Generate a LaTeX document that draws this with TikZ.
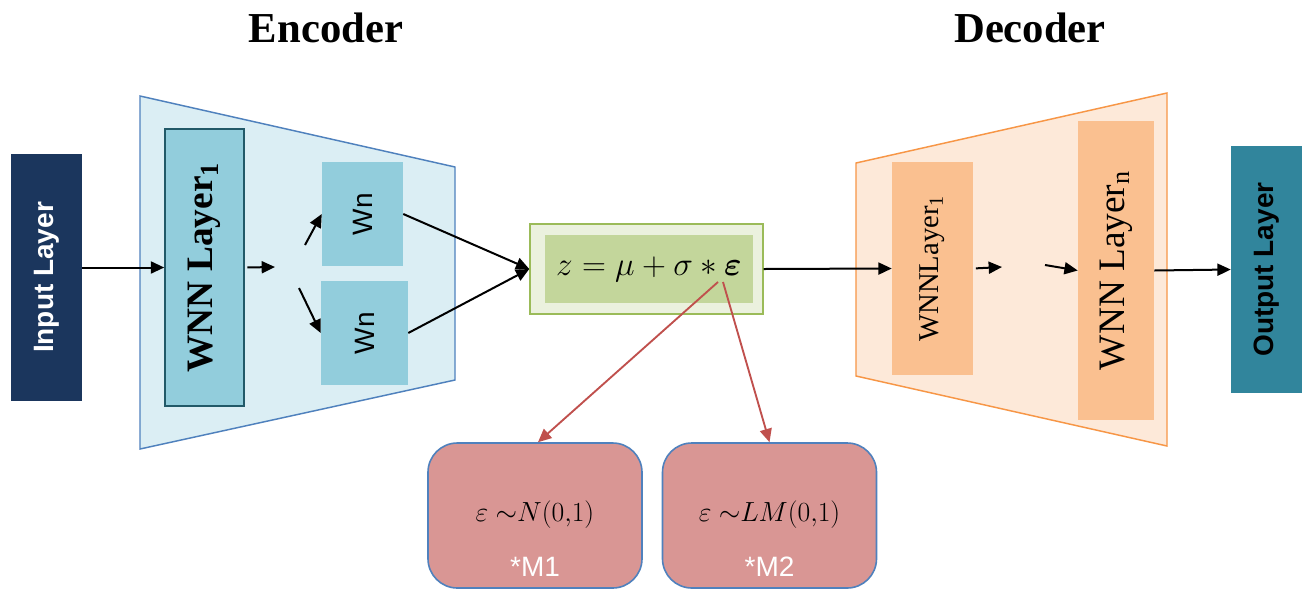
\documentclass[tikz,border=0pt]{standalone}
\usepackage{amsmath}
\usepackage{fontspec}
\setmainfont{Liberation Serif}
\setsansfont{Liberation Sans}
\usetikzlibrary{arrows.meta,calc}
\definecolor{inblue}{RGB}{27,54,93}
\definecolor{encfill}{RGB}{219,238,244}
\definecolor{encline}{RGB}{79,129,189}
\definecolor{wnnfill}{RGB}{146,205,220}
\definecolor{wnnline}{RGB}{33,89,104}
\definecolor{zout}{RGB}{235,241,222}
\definecolor{zin}{RGB}{195,214,155}
\definecolor{zline}{RGB}{155,187,89}
\definecolor{mfill}{RGB}{217,150,148}
\definecolor{redline}{RGB}{192,80,77}
\definecolor{decfill}{RGB}{253,233,217}
\definecolor{decline}{RGB}{247,150,70}
\definecolor{decbox}{RGB}{250,192,144}
\definecolor{outteal}{RGB}{49,133,156}
\tikzset{
  arr/.style={line width=1.5pt,-{Triangle[length=10pt,width=9pt]}},
  redarr/.style={line width=1.4pt,draw=redline,-{Triangle[length=10pt,width=9pt]}},
  vbox/.style={rotate=90,inner sep=0pt,anchor=center},
  sidetxt/.style={font=\sffamily\bfseries\fontsize{21}{24}\selectfont},
  title/.style={font=\bfseries\fontsize{32}{36}\selectfont},
  wnbox/.style={vbox,fill=wnnfill,font=\sffamily\fontsize{21}{24}\selectfont},
  mbox/.style={draw=encline,line width=1.2pt,fill=mfill,rounded corners=22pt,
    minimum width=160.5pt,minimum height=108.75pt,inner sep=0pt,
    font=\fontsize{22}{24}\selectfont},
  mlabel/.style={font=\sffamily\fontsize{21}{24}\selectfont,text=white,anchor=south,yshift=6pt}
}
\begin{document}
\begin{tikzpicture}[x=0.75pt,y=-0.75pt]
\useasboundingbox (0,0) rectangle (1313,590);
\fill[white] (0,0) rectangle (1313,590);

% titles
\node[title] (enc) at (326,28) {Encoder};
\node[title] (dec) at (1030,28) {Decoder};

% encoder trapezoid
\filldraw[fill=encfill,draw=encline,line width=1.1pt] (140,96) -- (455,167) -- (455,380) -- (140,449) -- cycle;
% decoder trapezoid
\filldraw[fill=decfill,draw=decline,line width=1.1pt] (856,163) -- (1167,93) -- (1167,446) -- (856,376) -- cycle;

% input layer (rotated: north = left side, south = right side)
\node[vbox,fill=inblue,text=white,sidetxt,minimum width=185.25pt,minimum height=53.25pt] (in) at (46.5,277.5) {Input Layer};
% encoder WNN layer
\node[vbox,fill=wnnfill,draw=wnnline,line width=1.2pt,minimum width=207.75pt,minimum height=59.25pt,
  font=\bfseries\fontsize{28}{32}\selectfont] (wnn1) at (204.5,267.5) {WNN Layer\textsubscript{1}};
% Wn boxes
\node[wnbox,minimum width=78pt,minimum height=60.75pt] (wnA) at (362.5,214) {Wn};
\node[wnbox,minimum width=78pt,minimum height=65.25pt] (wnB) at (364.5,333) {Wn};

% z box
\node[fill=zout,draw=zline,line width=1.1pt,minimum width=174.75pt,minimum height=67.5pt,inner sep=0pt] (zouter) at (646.5,269) {};
\node[fill=zin,minimum width=156pt,minimum height=51pt,inner sep=0pt,font=\fontsize{23}{26}\selectfont] (zinner) at (649,269)
  {$z=\mu+\sigma*\boldsymbol{\varepsilon}$};
\coordinate (eps) at (718,282);

% M boxes
\node[mbox,label={[mlabel]south:*M1}] (m1) at (535,515.5) {\raisebox{6pt}{$\varepsilon\ {\sim}N(0{,}1)$}};
\node[mbox,label={[mlabel]south:*M2}] (m2) at (769.5,515.5) {\raisebox{6pt}{$\varepsilon\ {\sim}LM(0{,}1)$}};

% decoder boxes
\node[vbox,fill=decbox,minimum width=159.75pt,minimum height=60.75pt,font=\fontsize{21.5}{24}\selectfont] (d1) at (932.5,268.5) {WNNLayer\textsubscript{1}};
\node[vbox,fill=decbox,minimum width=224.25pt,minimum height=57pt,font=\fontsize{28}{32}\selectfont] (dn) at (1116,270.5) {WNN Layer\textsubscript{n}};

% output layer
\node[vbox,fill=outteal,text=black,sidetxt,minimum width=185.25pt,minimum height=53.25pt] (out) at (1266.5,269.5) {Output Layer};

% free ends
\coordinate (c1) at (275,267);
\coordinate (c2) at (305,245);
\coordinate (c3) at (299,288);
\coordinate (c4) at (1002,267);
\coordinate (c5) at (1045,265);

% connectors
\draw[arr] (in.south |- wnn1.north) -- (wnn1.north);
\draw[arr,shorten <=2pt] (wnn1.south) -- (c1);
\draw[arr] (c2) -- (wnA.north);
\draw[arr] (c3) -- (wnB.north);
\draw[arr] (wnA.south) -- (zouter.west);
\draw[arr] (wnB.south) -- (zouter.west);
\draw[arr] (zouter.east) -- (d1.north);
\draw[redarr] (eps) -- ($(m1.north)+(3,0)$);
\draw[redarr] ($(eps)+(5,0)$) -- (m2.north);
\draw[arr,shorten <=2pt] (d1.south) -- (c4);
\draw[arr] (c5) -- (dn.north);
\draw[arr] (dn.south) -- (out.north);
\end{tikzpicture}
\end{document}
